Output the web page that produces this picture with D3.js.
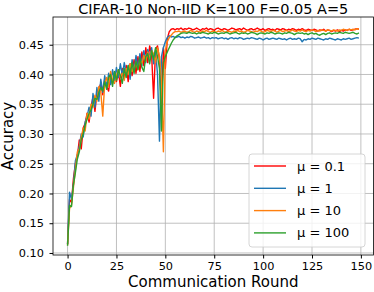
<!DOCTYPE html>
<html>
<head>
<meta charset="utf-8">
<script src="https://cdn.jsdelivr.net/npm/d3@7"></script>
<style>
  body { margin: 0; background: #fff; }
  svg text { font-family: "DejaVu Sans", sans-serif; fill: #000; }
</style>
</head>
<body>
<div id="chart"></div>
<script>
const width = 374, height = 292
const margin = { left: 53, right: 0.5, top: 17, bottom: 37 }

const xTicks = [0, 25, 50, 75, 100, 125, 150]
const yTicks = [0.10, 0.15, 0.20, 0.25, 0.30, 0.35, 0.40, 0.45]
const labels = ["μ = 0.1", "μ = 1", "μ = 10", "μ = 100"]
const colors = ["#ff0000", "#1f77b4", "#ff7f0e", "#2ca02c"]

// accuracy per round, rounds 0..149
const mu01 = [
  0.115, 0.190, 0.185, 0.225, 0.250, 0.262, 0.290, 0.275, 0.310, 0.318,
  0.335, 0.320, 0.345, 0.362, 0.338, 0.368, 0.375, 0.385, 0.366, 0.392,
  0.380, 0.372, 0.398, 0.384, 0.402, 0.388, 0.405, 0.380, 0.410, 0.393,
  0.415, 0.388, 0.418, 0.398, 0.425, 0.402, 0.430, 0.405, 0.438, 0.415,
  0.445, 0.420, 0.448, 0.432, 0.360, 0.442, 0.448, 0.425, 0.340, 0.445,
  0.410, 0.460, 0.472, 0.476, 0.477, 0.475,
  .477, .476, .478, .475, .477, .476, .478, .477, .475, .476,
  .478, .476, .474, .477, .476, .478, .475, .477, .476, .474,
  .477, .478, .476, .475, .477, .476, .474, .476, .478, .477,
  .475, .476, .477, .475, .478, .476, .474, .476, .477, .475,
  .476, .478, .476, .475, .477, .474, .476, .477, .475, .476,
  .474, .477, .476, .475, .477, .476, .474, .476, .475, .477,
  .476, .474, .476, .475, .477, .475, .474, .476, .475, .474,
  .476, .475, .473, .475, .474, .476, .473, .475, .474, .472,
  .474, .473, .475, .472, .474, .473, .475, .474, .476, .474,
  .475, .476, .477, .476
]
const mu1 = [
  0.115, 0.202, 0.190, 0.215, 0.255, 0.265, 0.280, 0.300, 0.295, 0.320,
  0.330, 0.345, 0.330, 0.368, 0.345, 0.378, 0.355, 0.392, 0.370, 0.398,
  0.378, 0.402, 0.383, 0.408, 0.390, 0.412, 0.395, 0.418, 0.398, 0.420,
  0.402, 0.415, 0.392, 0.425, 0.405, 0.432, 0.410, 0.435, 0.415, 0.440,
  0.420, 0.442, 0.428, 0.445, 0.418, 0.440, 0.400, 0.288, 0.430, 0.445,
  0.455, 0.462, 0.465, 0.463, 0.464, 0.462,
  .463, .464, .462, .463, .461, .463, .462, .464, .463, .461,
  .462, .463, .461, .462, .463, .461, .462, .460, .462, .461,
  .462, .460, .461, .462, .460, .461, .459, .461, .462, .460,
  .461, .460, .462, .461, .459, .460, .461, .460, .462, .461,
  .460, .459, .461, .460, .458, .460, .461, .459, .460, .461,
  .460, .459, .461, .460, .459, .460, .458, .460, .461, .459,
  .460, .459, .461, .460, .455, .459, .458, .460, .459, .461,
  .460, .459, .461, .460, .459, .458, .460, .459, .461, .460,
  .459, .458, .460, .459, .458, .460, .459, .460, .461, .459,
  .460, .461, .462, .461
]
const mu10 = [
  0.113, 0.175, 0.180, 0.210, 0.240, 0.270, 0.275, 0.295, 0.310, 0.305,
  0.335, 0.325, 0.350, 0.345, 0.365, 0.355, 0.380, 0.370, 0.330, 0.385,
  0.395, 0.380, 0.405, 0.390, 0.385, 0.398, 0.408, 0.395, 0.402, 0.390,
  0.410, 0.400, 0.418, 0.405, 0.412, 0.420, 0.408, 0.425, 0.418, 0.432,
  0.422, 0.438, 0.428, 0.440, 0.435, 0.420, 0.445, 0.430, 0.390, 0.270,
  0.440, 0.455, 0.462, 0.466, 0.470, 0.472,
  .472, .473, .471, .472, .473, .471, .472, .474, .472, .471,
  .473, .472, .471, .473, .472, .474, .472, .471, .473, .472,
  .471, .473, .472, .474, .472, .471, .473, .472, .471, .473,
  .472, .474, .472, .473, .471, .472, .474, .473, .472, .471,
  .473, .472, .474, .473, .471, .472, .474, .473, .472, .474,
  .473, .471, .473, .474, .472, .473, .474, .472, .473, .475,
  .473, .472, .474, .473, .475, .473, .472, .474, .473, .475,
  .474, .472, .474, .473, .475, .474, .473, .475, .474, .473,
  .475, .474, .473, .475, .474, .476, .475, .474, .476, .475,
  .476, .475, .477, .476
]
const mu100 = [
  0.112, 0.180, 0.178, 0.215, 0.235, 0.258, 0.270, 0.290, 0.300, 0.315,
  0.325, 0.335, 0.340, 0.350, 0.360, 0.358, 0.370, 0.378, 0.372, 0.388,
  0.375, 0.395, 0.400, 0.380, 0.405, 0.390, 0.408, 0.398, 0.385, 0.410,
  0.395, 0.415, 0.400, 0.420, 0.402, 0.422, 0.408, 0.428, 0.412, 0.405,
  0.430, 0.435, 0.418, 0.440, 0.425, 0.445, 0.430, 0.410, 0.305, 0.420,
  0.430, 0.438, 0.445, 0.452, 0.458, 0.462, 0.465, 0.467, 0.469, 0.470,
  .470, .469, .471, .470, .469, .470, .468, .470, .469, .471,
  .470, .469, .468, .470, .469, .471, .470, .468, .469, .470,
  .469, .471, .470, .468, .469, .470, .471, .469, .468, .470,
  .469, .470, .468, .469, .471, .470, .469, .467, .469, .470,
  .469, .468, .470, .469, .471, .470, .468, .469, .470, .469,
  .468, .470, .469, .471, .470, .469, .467, .469, .470, .469,
  .470, .468, .469, .467, .469, .470, .468, .469, .467, .466,
  .468, .469, .467, .469, .470, .468, .469, .470, .469, .471,
  .470, .469, .471, .470, .469, .470, .471, .469, .468, .470
]
const series = [mu01, mu1, mu10, mu100]

const svg = d3.select("#chart")
  .append("svg")
  .attr("width", width)
  .attr("height", height)

const x = d3.scaleLinear()
  .domain([-7.45, 156.45])
  .range([margin.left, width - margin.right])
const y = d3.scaleLinear()
  .domain([0.0966, 0.4966])
  .range([height - margin.bottom, margin.top])

// grid
svg.append("g")
  .selectAll("line.gx")
  .data(xTicks)
  .enter()
  .append("line")
  .attr("x1", d => x(d)).attr("x2", d => x(d))
  .attr("y1", margin.top).attr("y2", height - margin.bottom)
  .attr("stroke", "#b0b0b0").attr("stroke-width", 0.8)
svg.append("g")
  .selectAll("line.gy")
  .data(yTicks)
  .enter()
  .append("line")
  .attr("x1", margin.left).attr("x2", width - margin.right)
  .attr("y1", d => y(d)).attr("y2", d => y(d))
  .attr("stroke", "#b0b0b0").attr("stroke-width", 0.8)

// lines
const line = d3.line()
  .x((d, i) => x(i))
  .y(d => y(d))
svg.append("g")
  .selectAll("path")
  .data(series)
  .enter()
  .append("path")
  .attr("d", line)
  .attr("fill", "none")
  .attr("stroke", (d, i) => colors[i])
  .attr("stroke-width", 1.4)
  .attr("stroke-linejoin", "round")

// axes
const xAxis = svg.append("g")
  .attr("transform", `translate(0, ${height - margin.bottom})`)
  .call(d3.axisBottom(x).tickValues(xTicks).tickSize(3.5).tickPadding(3))
const yAxis = svg.append("g")
  .attr("transform", `translate(${margin.left}, 0)`)
  .call(d3.axisLeft(y).tickValues(yTicks).tickFormat(d3.format(".2f")).tickSize(3.5).tickPadding(5.5))
xAxis.selectAll("text").style("font-size", "11.3px")
yAxis.selectAll("text").style("font-size", "11.3px")
xAxis.select(".domain").remove()
yAxis.select(".domain").remove()

// frame
svg.append("rect")
  .attr("x", margin.left).attr("y", margin.top)
  .attr("width", width - margin.right - margin.left)
  .attr("height", height - margin.bottom - margin.top)
  .attr("fill", "none")
  .attr("stroke", "#000")
  .attr("stroke-width", 0.8)

// labels
svg.append("text")
  .attr("x", (margin.left + width - margin.right) / 2)
  .attr("y", 13.5)
  .attr("text-anchor", "middle")
  .style("font-size", "14.5px")
  .text("CIFAR-10 Non-IID K=100 F=0.05 A=5")
svg.append("text")
  .attr("x", (margin.left + width - margin.right) / 2)
  .attr("y", 287)
  .attr("text-anchor", "middle")
  .style("font-size", "15px")
  .text("Communication Round")
svg.append("text")
  .attr("transform", `translate(12.5, ${(margin.top + height - margin.bottom) / 2}) rotate(-90)`)
  .attr("text-anchor", "middle")
  .style("font-size", "15px")
  .text("Accuracy")

// legend
const legend = svg.append("g").attr("transform", "translate(249, 154)")
legend.append("rect")
  .attr("width", 116).attr("height", 93)
  .attr("rx", 3)
  .attr("fill", "#fff").attr("fill-opacity", 0.8)
  .attr("stroke", "#cccccc").attr("stroke-width", 0.8)
const items = legend.selectAll("g.item")
  .data(labels)
  .enter()
  .append("g")
  .attr("transform", (d, i) => `translate(0, ${12 + i * 22.3})`)
items.append("line")
  .attr("x1", 5).attr("x2", 37)
  .attr("stroke", (d, i) => colors[i])
  .attr("stroke-width", 1.4)
items.append("text")
  .attr("x", 48)
  .attr("dy", "0.35em")
  .style("font-size", "13px")
  .text(d => d)
</script>
</body>
</html>
